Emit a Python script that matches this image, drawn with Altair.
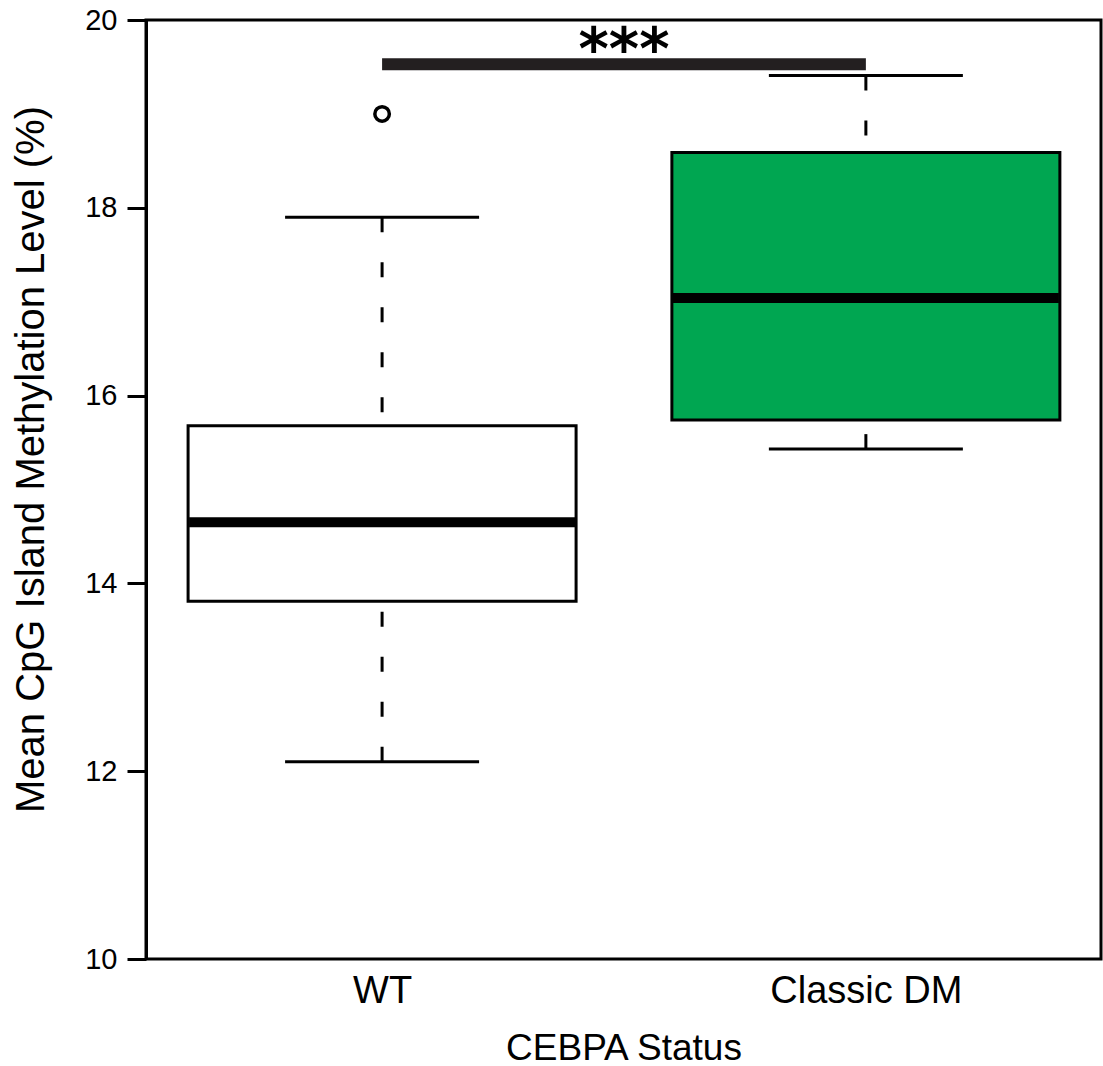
import altair as alt
import pandas as pd

# Box-plot summary of mean CpG island methylation by CEBPA status
status = ["WT", "Classic DM"]
position = [1, 2]
whisker_low = [12.10, 15.43]
q1 = [13.81, 15.74]
median = [14.65, 17.04]
q3 = [15.68, 18.59]
whisker_high = [17.90, 19.41]
box_fill = ["#FFFFFF", "#00A651"]

# Outlying observation
outlier_status = ["WT"]
outlier_value = [19.0]

# Significance bracket between the two groups
sig_from = [1]
sig_to = [2]
sig_level = [19.53]
sig_label = ["***"]

FONT = "Liberation Sans"

boxes = pd.DataFrame({
    "status": status, "pos": position, "low": whisker_low, "q1": q1,
    "median": median, "q3": q3, "high": whisker_high,
})
outliers = pd.DataFrame({
    "pos": [position[status.index(s)] for s in outlier_status],
    "value": outlier_value,
})
sig = pd.DataFrame({"x1": sig_from, "x2": sig_to, "y": sig_level, "label": sig_label})

label_expr = "[" + ",".join("'" + s + "'" for s in status) + "][datum.value - 1]"

x_scale = alt.Scale(domain=[0.512, 2.486], nice=False, zero=False, padding=0)
y_scale = alt.Scale(domain=[10, 20], nice=False, zero=False, padding=0)

x_enc = alt.X(
    "pos:Q", scale=x_scale, title="CEBPA Status",
    axis=alt.Axis(values=position, labelExpr=label_expr, ticks=False, grid=False,
                  domain=False, labelFontSize=38, labelPadding=13, labelLimit=400,
                  titleFontSize=37, titlePadding=20, labelFont=FONT,
                  titleFont=FONT, titleFontWeight="normal", labelColor="black",
                  titleColor="black"),
)
y_axis = alt.Axis(values=[10, 12, 14, 16, 18, 20], format="d", grid=False, tickSize=19,
                  tickWidth=3, tickColor="black", domainColor="black",
                  domainWidth=3, labelFontSize=29, labelPadding=10,
                  titleFontSize=40, titlePadding=33, titleY=439, labelFont=FONT,
                  titleFont=FONT, titleFontWeight="normal", labelColor="black",
                  titleColor="black", title="Mean CpG Island Methylation Level (%)")

base = alt.Chart(boxes)

upper_whisker = base.mark_rule(color="black", strokeWidth=3, strokeDash=[15, 30]).encode(
    x=x_enc, y=alt.Y("high:Q", scale=y_scale, axis=y_axis), y2="q3:Q")
lower_whisker = base.mark_rule(color="black", strokeWidth=3, strokeDash=[15, 30]).encode(
    x="pos:Q", y="low:Q", y2="q1:Q")
upper_cap = base.mark_tick(color="black", orient="horizontal", size=194, thickness=3,
                           opacity=1).encode(x="pos:Q", y="high:Q")
lower_cap = base.mark_tick(color="black", orient="horizontal", size=194, thickness=3,
                           opacity=1).encode(x="pos:Q", y="low:Q")
box = base.mark_bar(size=388, stroke="black", strokeWidth=3, opacity=1).encode(
    x="pos:Q", y="q1:Q", y2="q3:Q",
    fill=alt.Fill("status:N", scale=alt.Scale(domain=status, range=box_fill), legend=None))
mid = base.mark_tick(color="black", orient="horizontal", size=386, thickness=10,
                     opacity=1).encode(x="pos:Q", y="median:Q")

points = alt.Chart(outliers).mark_point(
    shape="circle", size=210, filled=False, stroke="black", strokeWidth=3.5, opacity=1
).encode(x="pos:Q", y="value:Q")

bracket = alt.Chart(sig).mark_rule(color="#231F20", strokeWidth=12).encode(
    x="x1:Q", x2="x2:Q", y="y:Q")
stars = alt.Chart(sig).transform_calculate(mid="(datum.x1 + datum.x2) / 2").mark_text(
    font="DejaVu Sans", fontSize=58, fontWeight="bold", color="black",
    baseline="alphabetic", dy=5
).encode(x="mid:Q", y="y:Q", text="label:N")

chart = alt.layer(
    upper_whisker, lower_whisker, upper_cap, lower_cap, box, mid, points, bracket, stars
).properties(
    width=955, height=939,
    autosize=alt.AutoSizeParams(type="none"),
    padding={"left": 146, "top": 20, "right": 2, "bottom": 107},
    background="white",
).configure_view(
    stroke="black", strokeWidth=3
)

chart.save("out.html", embed_options={"renderer": "svg", "actions": False})
